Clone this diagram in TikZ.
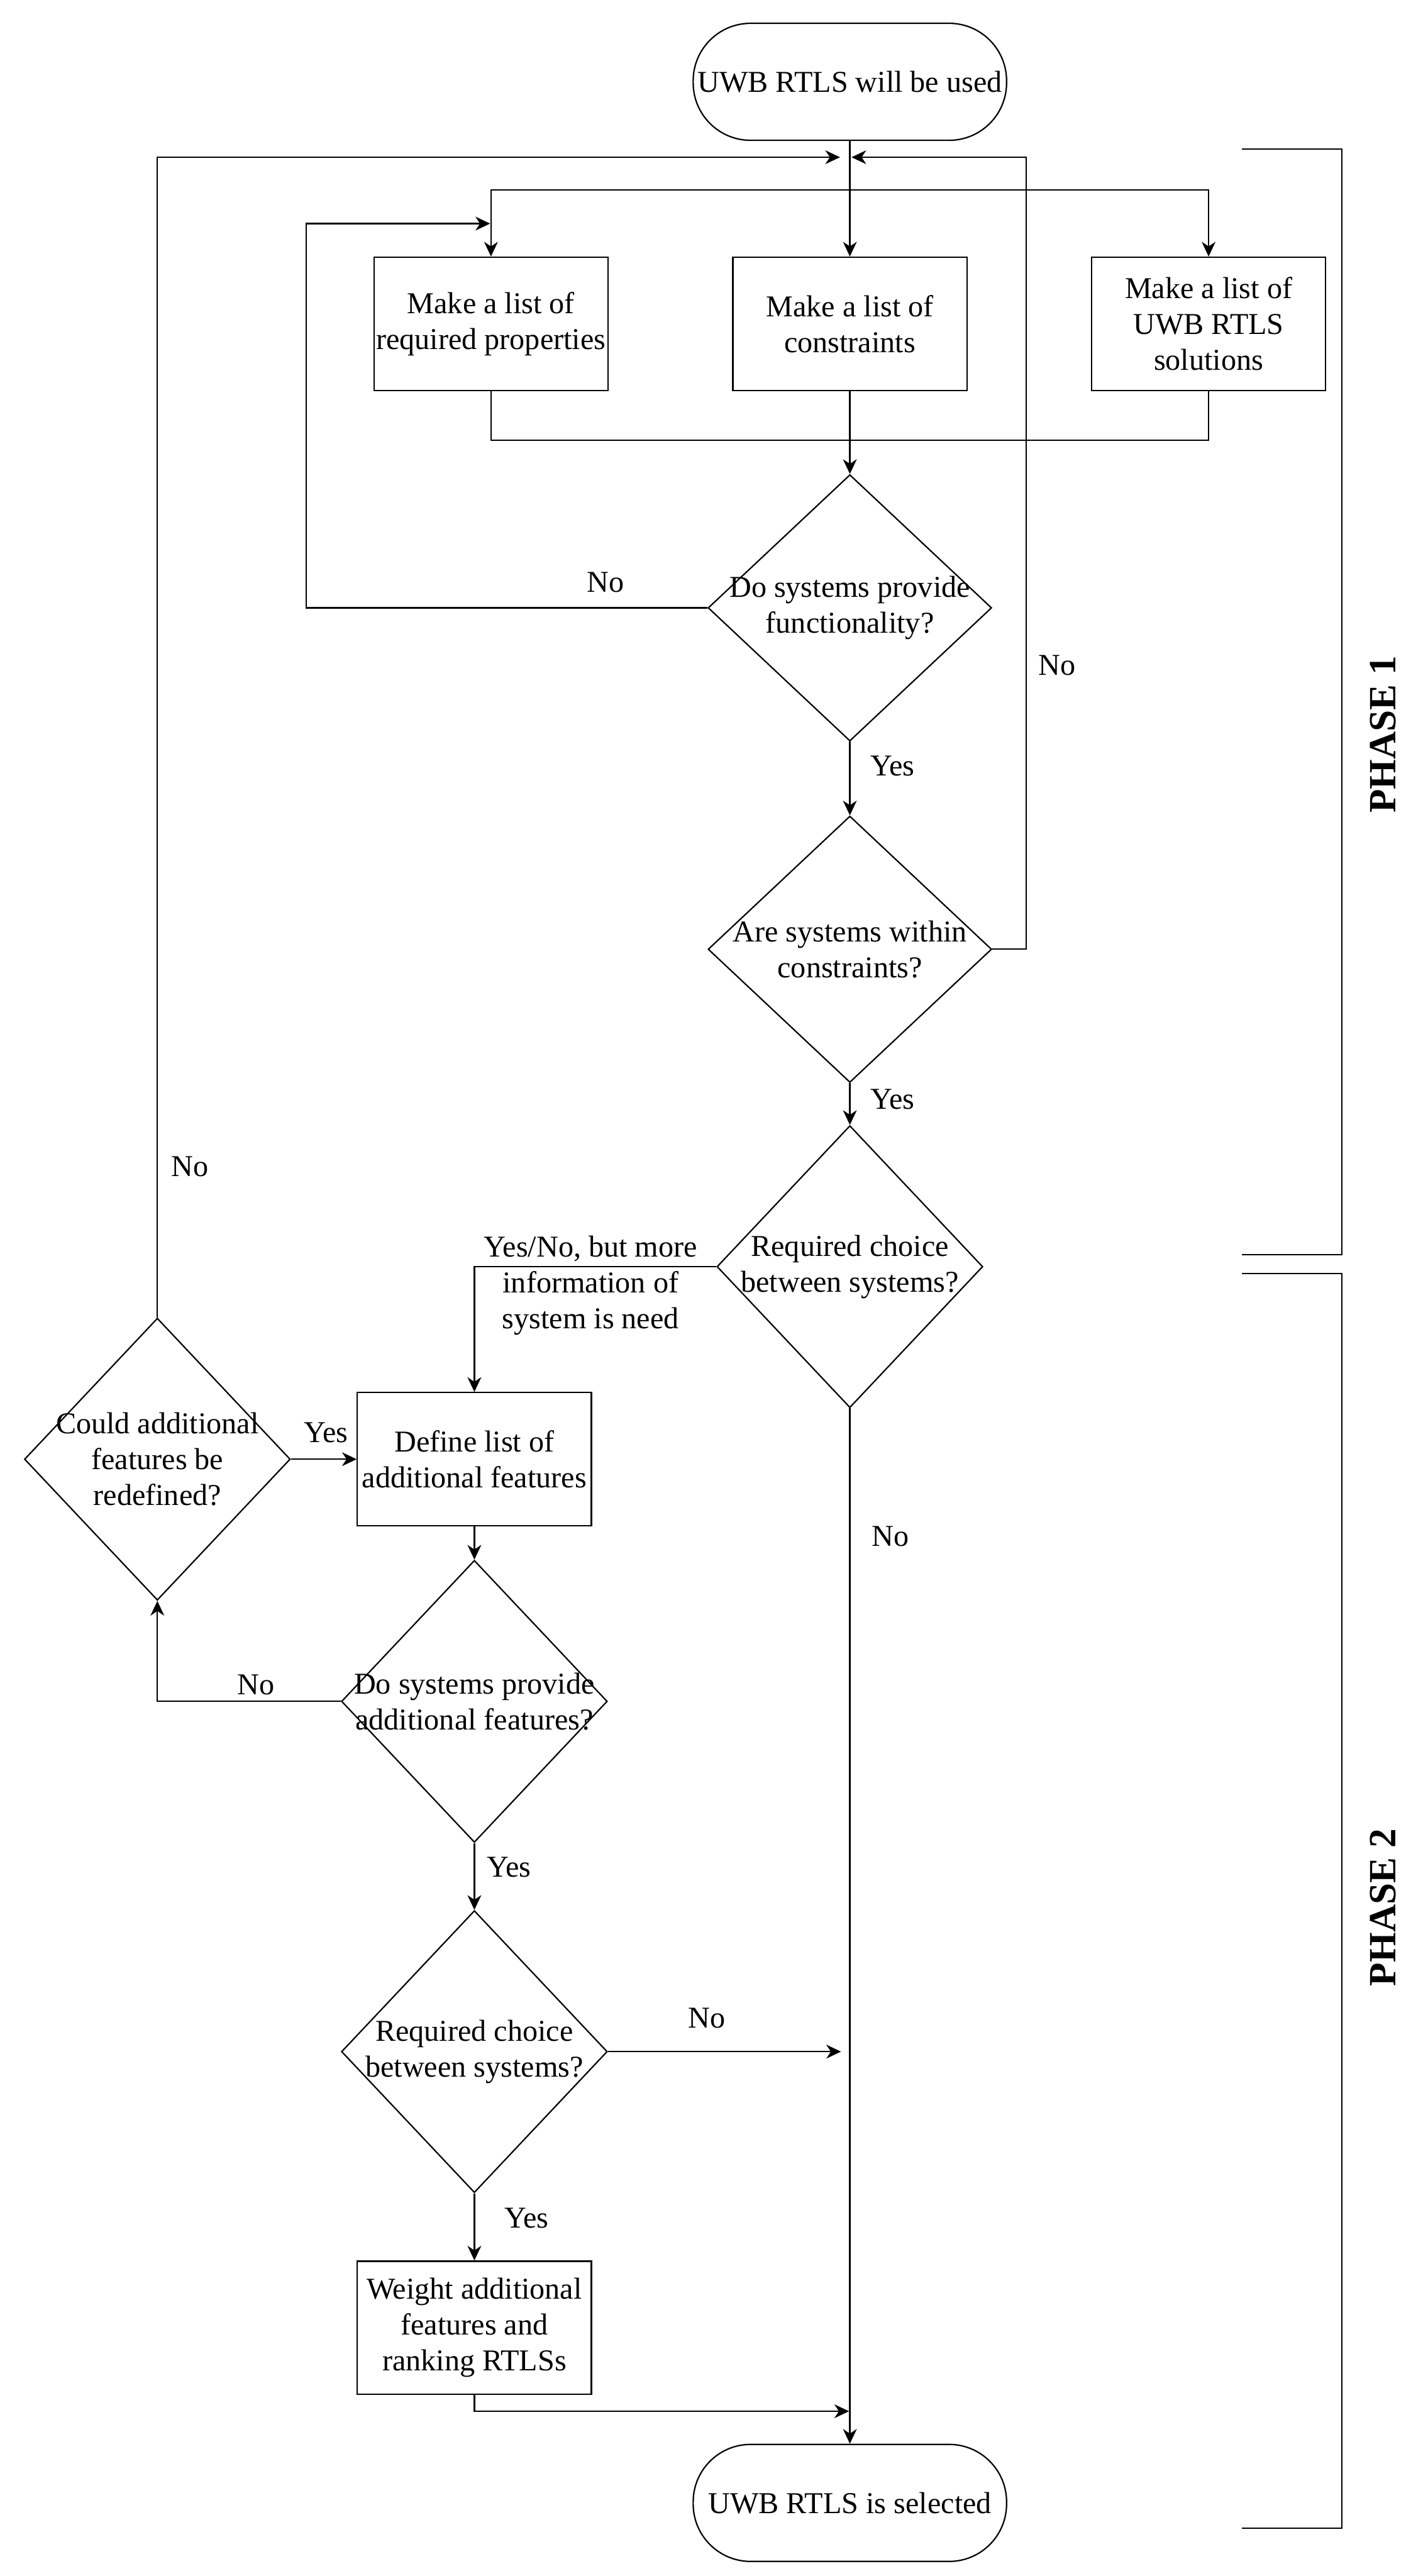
\documentclass[tikz,border=0pt]{standalone}
\usepackage{fontspec}
\setmainfont{Liberation Serif}
\usepackage{tikz}
\usetikzlibrary{arrows.meta,positioning,calc,shapes.geometric}

\begin{document}
\begin{tikzpicture}[x=0.03145cm,y=-0.03145cm,line width=0.75pt,
  font=\fontsize{16.5}{19.5}\selectfont,
  terminal/.style={draw,rectangle,rounded corners=1.1cm,minimum width=6.0cm,minimum height=2.24cm,inner sep=0pt},
  process/.style={draw,rectangle,minimum width=4.48cm,minimum height=2.55cm,align=center,inner sep=0pt},
  decision/.style={draw,diamond,minimum width=5.09cm,minimum height=5.4cm,inner sep=0pt},
  broad/.style={minimum width=5.43cm,minimum height=5.1cm},
  qtext/.style={align=center,inner sep=0pt},
  edgetext/.style={inner sep=0pt},
  flow/.style={-{Stealth[length=8pt,width=7.5pt,inset=2.5pt]}},
  phase/.style={rotate=90,font=\fontsize{21}{25}\selectfont\bfseries}]
  \useasboundingbox (0,0) rectangle (869,1568);

  \node[terminal] (s) at (517.4,49.8) {UWB RTLS will be used};
  \node[process] (b1) at (298.9,197.1) {Make a list of\\required properties};
  \node[process] (b2) at (517.4,197.1) {Make a list of\\constraints};
  \node[process] (b3) at (735.8,197.1) {Make a list of\\UWB RTLS\\solutions};
  \node[decision,broad] (d1) at (517.4,370) {};
  \node[qtext] (d1t) at (d1) {Do systems provide\\functionality?};
  \node[decision,broad] (d2) at (517.4,577.8) {};
  \node[qtext] (d2t) at (d2) {Are systems within\\constraints?};
  \node[decision] (d3) at (517.4,771) {};
  \node[qtext] (d3t) at (d3) {Required choice\\between systems?};
  \node[decision] (c) at (95.8,888.2) {};
  \node[qtext] (ct) at (c) {Could additional\\features be\\redefined?};
  \node[process] (b4) at (288.8,888.2) {Define list of\\additional features};
  \node[decision] (d5) at (288.8,1035.6) {};
  \node[qtext] (d5t) at (d5) {Do systems provide\\additional features?};
  \node[decision] (d6) at (288.8,1248.8) {};
  \node[qtext] (d6t) at (d6) {Required choice\\between systems?};
  \node[process] (b7) at (288.8,1416.9) {Weight additional\\features and\\ranking RTLSs};
  \node[terminal] (e) at (517.4,1523.5) {UWB RTLS is selected};

  \coordinate (inL) at (511.4,95.7);
  \coordinate (inR) at (518.4,95.7);
  \coordinate (split) at (517.4,115.7);
  \coordinate (join) at (517.4,268);
  \coordinate (fb1) at (298.4,136.1);
  \coordinate (inNo) at (512,1248.8);
  \coordinate (inW) at (516.9,1467.7);

  \draw[flow] (s) -- (b2);
  \draw[flow] (split) -| (b1.north);
  \draw[flow] (split) -| (b3.north);
  \draw (b1.south) |- (join) -| (b3.south);
  \draw[flow] (b2) -- (d1);
  \draw[flow] (d1.west) -- ++(-244.2,0) |- (fb1);
  \draw[flow] (d1) -- (d2);
  \draw[flow] (d2.east) -- ++(20.6,0) |- (inR);
  \draw[flow] (d2) -- (d3);
  \draw[flow] (d3.west) -| (b4.north);
  \draw[flow] (d3) -- (e);
  \draw[flow] (c.east) -- (b4.west);
  \draw[flow] (c.north) |- (inL);
  \draw[flow] (b4) -- (d5);
  \draw[flow] (d5.west) -| (c.south);
  \draw[flow] (d5) -- (d6);
  \draw[flow] (d6.east) -- (inNo);
  \draw[flow] (d6) -- (b7);
  \draw[flow] (b7.south) |- (inW);

  \node[edgetext,anchor=base] (no1) at (368.8,360.3) {No};
  \node[edgetext,anchor=base west] (yes1) at (529.5,472.3) {Yes};
  \node[edgetext,anchor=base] (no2) at (643.5,411) {No};
  \node[edgetext,anchor=base west] (yes2) at (529.5,675) {Yes};
  \node[edgetext,align=center] (more) at (359.6,782.5) {Yes/No, but more\\information of\\system is need};
  \node[edgetext,anchor=base west] (no3) at (530.5,941) {No};
  \node[edgetext,anchor=base west] (yes3) at (184.5,878) {Yes};
  \node[edgetext,anchor=base west] (no4) at (104,716) {No};
  \node[edgetext,anchor=base] (no5) at (155.8,1031.5) {No};
  \node[edgetext,anchor=base west] (yes4) at (296,1142.5) {Yes};
  \node[edgetext,anchor=base] (no6) at (430.3,1234.2) {No};
  \node[edgetext,anchor=base west] (yes5) at (306.7,1356) {Yes};

  \foreach \ya/\yb in {90.6/763.7,775.2/1539}{\draw (756,\ya) -- (817,\ya) -- (817,\yb) -- (756,\yb);}
  \node[phase] (ph1) at (842,447) {PHASE 1};
  \node[phase] (ph2) at (842,1161) {PHASE 2};
\end{tikzpicture}
\end{document}
